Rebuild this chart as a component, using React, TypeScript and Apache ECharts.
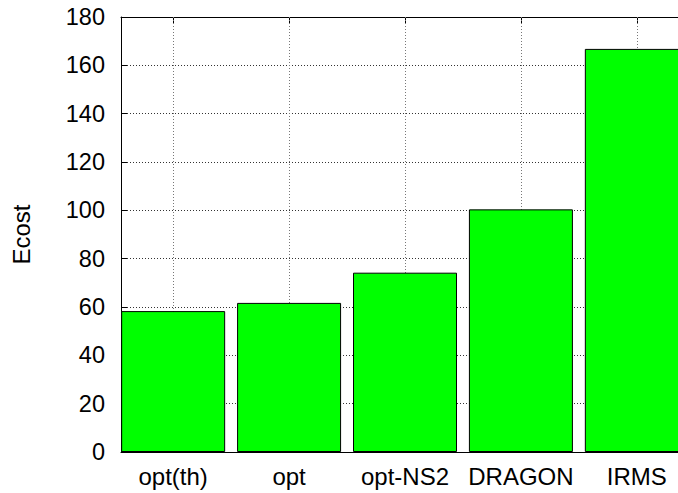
import React, { useEffect, useRef } from "react";
import * as echarts from "echarts";

const categories = ["opt(th)", "opt", "opt-NS2", "DRAGON", "IRMS"];
const ecostValues = [58.3, 61.7, 74.2, 100.4, 166.8];
const yTicks = { min: 0, max: 180, interval: 20 };
const yTitle = "Ecost";

const FONT = "'Liberation Sans', Arial, Helvetica, sans-serif";

export default function App() {
  const ref = useRef<HTMLDivElement>(null);
  useEffect(() => {
    if (!ref.current) return;
    const chart = echarts.init(ref.current, null, { renderer: "svg" });
    const idx = categories.map((_, i) => i);
    const xMin = -0.45;
    const xMax = categories.length - 1 + 0.45;
    const option: any = {
      animation: false,
      backgroundColor: "#ffffff",
      grid: { left: 121, top: 17, width: 568, height: 435, containLabel: false },
      xAxis: [
        {
          type: "value",
          min: xMin,
          max: xMax,
          position: "bottom",
          axisLine: { show: true, onZero: false, lineStyle: { color: "#000", width: 1 } },
          axisTick: { show: true, inside: true, length: 6, customValues: idx, lineStyle: { color: "#000" } },
          axisLabel: {
            show: true,
            customValues: idx,
            margin: 12,
            fontSize: 24,
            fontFamily: FONT,
            color: "#000",
            formatter: (v: number) => categories[Math.round(v)] ?? "",
          },
          splitLine: { show: false },
        },
        {
          type: "value",
          min: xMin,
          max: xMax,
          position: "top",
          axisLine: { show: true, onZero: false, lineStyle: { color: "#000", width: 1 } },
          axisTick: { show: true, inside: true, length: 6, customValues: idx, lineStyle: { color: "#000" } },
          axisLabel: { show: false },
          splitLine: { show: false },
        },
      ],
      yAxis: {
        type: "value",
        min: yTicks.min,
        max: yTicks.max,
        interval: yTicks.interval,
        axisLine: { show: true, onZero: false, lineStyle: { color: "#000", width: 1 } },
        axisTick: { show: true, inside: true, length: 6, lineStyle: { color: "#000" } },
        axisLabel: { margin: 16, fontSize: 23.5, fontFamily: FONT, color: "#000" },
        splitLine: { show: true, lineStyle: { color: "#333", width: 1, type: [1, 2] } },
      },
      graphic: [
        {
          type: "text",
          x: 21.5,
          y: 234.5,
          rotation: Math.PI / 2,
          style: {
            text: yTitle,
            fontSize: 24,
            fontFamily: FONT,
            fill: "#000",
            align: "center",
            verticalAlign: "middle",
          },
        },
      ],
      series: [
        {
          type: "custom",
          z: 1,
          silent: true,
          data: idx.map((i) => [i]),
          renderItem: (params: any, api: any) => {
            const x = Math.round(api.coord([api.value(0), 0])[0]) + 0.5;
            const top = api.coord([0, yTicks.max])[1];
            const bottom = api.coord([0, yTicks.min])[1];
            return {
              type: "line",
              shape: { x1: x, y1: top, x2: x, y2: bottom },
              style: { stroke: "#777", lineWidth: 1, lineDash: [1, 2] },
            };
          },
        },
        {
          type: "bar",
          z: 2,
          barWidth: 104,
          data: ecostValues.map((v, i) => [i, v]),
          itemStyle: { color: "#00ff00", borderColor: "#000", borderWidth: 1 },
        },
      ],
    };
    chart.setOption(option);
    return () => chart.dispose();
  }, []);
  return (
    <div style={{ position: "absolute", left: 0, top: 0, width: 678, height: 493, overflow: "hidden" }}>
      <div ref={ref} style={{ position: "absolute", left: 0, top: 0, width: 700, height: 493 }} />
    </div>
  );
}
